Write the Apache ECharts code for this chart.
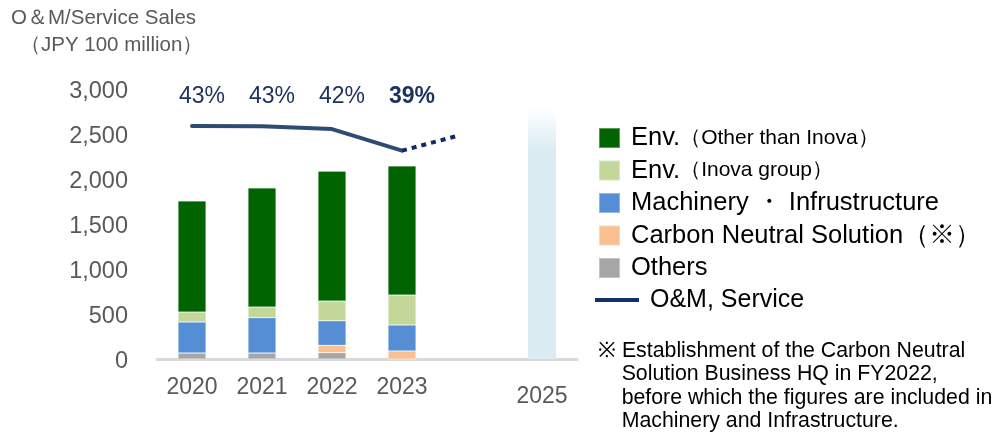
<!DOCTYPE html>
<html>
<head>
<meta charset="utf-8">
<script src="https://cdn.jsdelivr.net/npm/echarts@6/dist/echarts.min.js"></script>
<style>
html,body{margin:0;padding:0;background:#fff;}
#c{width:998px;height:434px;}
</style>
</head>
<body>
<div id="c"></div>
<script>
// ---- data ----
var categories = ['2020', '2021', '2022', '2023', '2024', '2025'];
var axisLabels = ['2020', '2021', '2022', '2023', '', '2025'];
var envOther = [1233, 1322, 1444, 1433, null, null];
var envInova = [111, 119, 219, 333, null, null];
var machinery = [344, 392, 273, 289, null, null];
var carbonNeutral = [0, 0, 82, 89, null, null];
var others = [67, 67, 70, 0, null, null];
var plan2025 = [null, null, null, null, null, 2790];
var omLineX = [0, 1, 2, 3];
var omLineY = [2590, 2585, 2555, 2315];
var omForecastX = [3, 3.77];
var omForecastY = [2315, 2475];
var pctLabels = ['43%', '43%', '42%', '39%'];
var pctRow = [2920, 2920, 2920, 2920];

var seriesNames = [
  'Env.（Other than Inova）',
  'Env.（Inova group）',
  'Machinery・Infrustructure',
  'Carbon Neutral Solution（※）',
  'Others'
];

var chart = echarts.init(document.getElementById('c'));
var FONT = '"Liberation Sans", Arial, sans-serif';

function barSeries(name, data, color) {
  return {
    name: name, type: 'bar', stack: 'om', data: data, barWidth: 28,
    xAxisIndex: 0, yAxisIndex: 0,
    itemStyle: { color: color, borderColor: 'rgba(255,255,255,0.35)', borderWidth: 0.6 },
    emphasis: { disabled: true }
  };
}

var option = {
  animation: false,
  textStyle: { fontFamily: FONT },
  grid: { left: 157, right: 421, top: 89, bottom: 75, containLabel: false },
  xAxis: [{
    type: 'category', data: categories,
    axisLine: { lineStyle: { color: '#D9D9D9', width: 3 } },
    axisTick: { show: false },
    axisLabel: {
      color: '#595959', fontSize: 23, fontFamily: FONT, margin: 17, interval: 0,
      formatter: function (v, i) { return i === 5 ? '{l|' + axisLabels[i] + '}' : axisLabels[i]; },
      rich: { l: { fontSize: 23, color: '#595959', fontFamily: FONT, padding: [9, 0, 0, 0] } }
    }
  }, {
    type: 'value', min: 0, max: 1, show: false
  }],
  yAxis: [{
    type: 'value', min: 0, max: 3000, interval: 500,
    axisLine: { show: false }, axisTick: { show: false }, splitLine: { show: false },
    axisLabel: {
      color: '#595959', fontSize: 23.5, fontFamily: FONT, margin: 29,
      verticalAlign: 'top', lineHeight: 6,
      formatter: function (v) { return v.toLocaleString('en-US'); }
    }
  }],
  legend: [{
    orient: 'vertical', left: 593, top: 120,
    itemWidth: 21, itemHeight: 20, itemGap: 6.5, icon: 'rect',
    data: seriesNames,
    selectedMode: false,
    formatter: function (n) {
      var m = n.match(/^(Env\.)(（.*）)$/);
      if (m) return '{a|' + m[1] + '}{b|' + m[2] + '}';
      return '{a|' + n.replace('・', ' ・ ') + '}';
    },
    textStyle: {
      fontSize: 25.5, lineHeight: 26,
      padding: [0, 0, 0, 6],
      rich: {
        a: { fontSize: 25.5, color: '#000', fontFamily: FONT, lineHeight: 26 },
        b: { fontSize: 21, color: '#000', fontFamily: FONT, lineHeight: 26 }
      }
    }
  }, {
    orient: 'vertical', left: 590, top: 282,
    itemWidth: 44, itemHeight: 4, icon: 'rect',
    selectedMode: false,
    data: ['O&M, Service'],
    itemStyle: { color: '#14306B' },
    textStyle: { fontSize: 25, lineHeight: 26, color: '#000', fontFamily: FONT, padding: [0, 0, 0, 6] }
  }],
  graphic: [
    { type: 'text', left: 11, top: 8, style: { text: 'O＆M/Service Sales', fontSize: 20.5, fill: '#595959', fontFamily: FONT } },
    { type: 'text', left: 20, top: 35, style: { text: '（JPY 100 million）', fontSize: 20.5, fill: '#595959', fontFamily: FONT } },
    { type: 'text', left: 598, top: 339, style: {
        text: '※ Establishment of the Carbon Neutral\n    Solution Business HQ in FY2022,\n    before which the figures are included in\n    Machinery and Infrastructure.',
        fontSize: 21.3, lineHeight: 23.5, fill: '#000', fontFamily: FONT } }
  ],
  series: [
    barSeries(seriesNames[4], others, '#A6A6A6'),
    barSeries(seriesNames[3], carbonNeutral, '#FAC090'),
    barSeries(seriesNames[2], machinery, '#558ED5'),
    barSeries(seriesNames[1], envInova, '#C4D79B'),
    barSeries(seriesNames[0], envOther, '#006400'),
    {
      name: '2025', type: 'bar', stack: 'om', data: plan2025, barWidth: 29,
      itemStyle: {
        color: new echarts.graphic.LinearGradient(0, 0, 0, 1, [
          { offset: 0, color: 'rgba(218,236,242,0)' },
          { offset: 0.17, color: '#DAECF2' },
          { offset: 1, color: '#DAECF2' }
        ])
      },
      emphasis: { disabled: true }
    },
    {
      name: 'O&M, Service', type: 'line', xAxisIndex: 0, yAxisIndex: 0,
      data: omLineY,
      symbol: 'none', lineStyle: { color: '#2E4B74', width: 4, cap: 'round', join: 'round' },
      itemStyle: { color: '#14306B' }, z: 5, emphasis: { disabled: true }
    },
    {
      name: 'forecast', type: 'line', xAxisIndex: 2, yAxisIndex: 0,
      data: [],
      symbol: 'none', lineStyle: { color: '#0E2B63', width: 4, type: [5, 5], cap: 'butt' },
      z: 5, emphasis: { disabled: true }
    },
    {
      name: 'pct', type: 'scatter', xAxisIndex: 0, yAxisIndex: 0,
      data: pctRow.map(function (v, i) {
        return i === 3 ? { value: v, label: { fontWeight: 'bold' } } : v;
      }),
      symbolSize: 1, itemStyle: { color: 'rgba(0,0,0,0)', opacity: 1 },
      label: {
        show: true, position: 'inside',
        padding: [0, 0, 0, 20],
        formatter: function (p) { return pctLabels[p.dataIndex]; },
        color: '#1B315F', fontSize: 23, fontFamily: FONT,
        fontWeight: 'normal'
      },
      emphasis: { disabled: true }
    }
  ]
};
// value-type x axis aligned with the category slots, used for the forecast segment
option.xAxis[1] = { type: 'value', min: -0.5, max: 5.5, show: false };
option.xAxis.push({ type: 'value', min: -0.5, max: 5.5, show: false });
option.series[7].data = omForecastX.map(function (x, i) { return [x, omForecastY[i]]; });
chart.setOption(option);
</script>
</body>
</html>
